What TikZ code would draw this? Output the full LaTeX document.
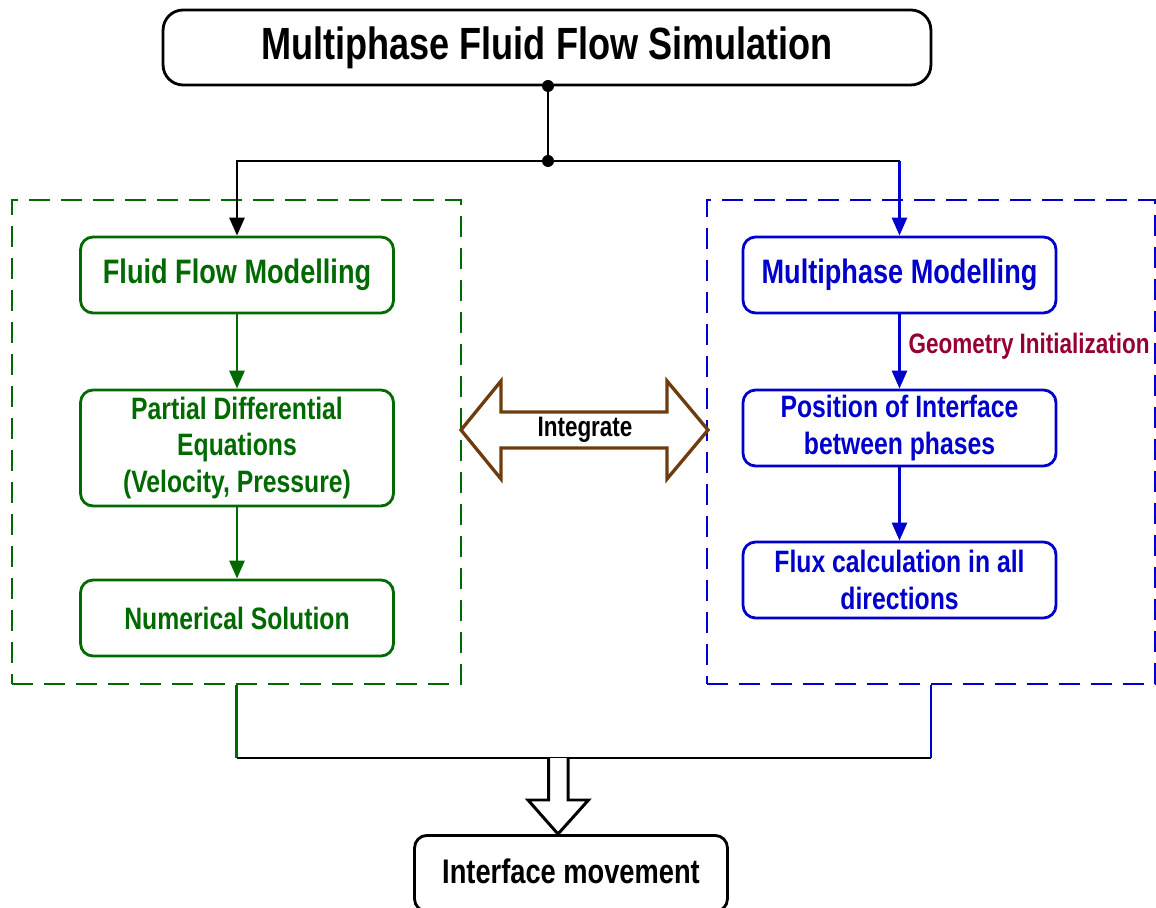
\documentclass[tikz,border=0pt]{standalone}
\usepackage{fontspec}
\setmainfont[FakeStretch=0.8]{Liberation Sans}
\usetikzlibrary{arrows.meta}
\definecolor{grn}{RGB}{0,105,0}
\definecolor{blu}{RGB}{0,0,205}
\definecolor{brn}{RGB}{110,60,15}
\definecolor{lbl}{RGB}{150,0,50}
\begin{document}
\begin{tikzpicture}[x=0.02cm,y=-0.02cm,
  line width=1.6pt,
  box/.style={draw,rounded corners=0.25cm,align=center,font=\bfseries\fontsize{17.6}{20.6}\selectfont,minimum width=6.26cm,minimum height=1.52cm,inner sep=2pt},
  bigtxt/.style={font=\bfseries\fontsize{19.3}{22}\selectfont},
  gbox/.style={box,draw=grn,text=grn},
  bbox/.style={box,draw=blu,text=blu},
  frame/.style={draw,dashed,dash pattern=on 0.42cm off 0.22cm,minimum height=9.68cm,inner sep=0pt},
  arr/.style={-{Triangle[length=0.36cm,width=0.3cm]}},
  dot/.style={circle,fill,inner sep=0pt,minimum size=0.24cm}
]
\useasboundingbox (0,0) rectangle (1156,908);
\clip (0,0) rectangle (1156,908);
% title
\node[box,minimum width=15.36cm,minimum height=1.5cm,rounded corners=0.4cm,font=\bfseries\fontsize{25.7}{30}\selectfont] (title) at (547,47.5) {Multiphase Fluid Flow Simulation};
% frames
\node[frame,draw=grn,minimum width=8.98cm] (gframe) at (236.5,442) {};
\node[frame,draw=blu,minimum width=8.96cm] (bframe) at (931,442) {};
% green boxes
\node[gbox,bigtxt] (ffm) at (237,275) {Fluid Flow Modelling};
\node[gbox,minimum height=2.32cm] (pde) at (237,448) {Partial Differential\\Equations\\(Velocity, Pressure)};
\node[gbox] (num) at (237,618) {Numerical Solution};
% blue boxes
\node[bbox,bigtxt] (mpm) at (899.5,275) {Multiphase Modelling};
\node[bbox] (pos) at (899.5,428) {Position of Interface\\between phases};
\node[bbox] (flux) at (899.5,580) {Flux calculation in all\\directions};
% bottom box
\node[box,draw=black,minimum height=1.52cm,anchor=north] (ifm) at (571,834) {};
\node[font=\bfseries\fontsize{19.4}{22}\selectfont] (ifmt) at (571,871) {Interface movement};
% top connectors
\coordinate (j) at (548,161);
\coordinate (tb) at (548,86);
\draw (tb) -- (j);
\node[dot] (d1) at (tb) {};
\node[dot] (d2) at (j) {};
\draw[arr] (j) -| (ffm.north);
\draw (j) -- (j -| mpm.north);
\draw[blu,arr] (j -| mpm.north) -- (mpm.north);
% inner arrows
\draw[grn,arr] (ffm) -- (pde);
\draw[grn,arr] (pde) -- (num);
\draw[blu,arr] (mpm) -- node[right,text=lbl,font=\bfseries\fontsize{16}{19}\selectfont,xshift=1pt,yshift=3pt]{Geometry Initialization} (pos);
\draw[blu,arr] (pos) -- (flux);
% integrate double arrow
\coordinate (il) at (461,430);
\coordinate (ir) at (708,430);
\draw[brn,line width=1.9pt,fill=white] (il) -- ++(40,-49) -- ++(0,31) -- ++(166,0) -- ++(0,-31) -- (ir) -- ++(-41,49) -- ++(0,-31) -- ++(-166,0) -- ++(0,31) -- cycle;
\node[font=\bfseries\fontsize{16}{19}\selectfont] (integ) at (585,430) {Integrate};
% bottom merge
\coordinate (m) at (558,758);
\draw[grn] (gframe.south) -- (gframe.south |- m);
\draw[blu] (bframe.south) -- (bframe.south |- m);
\draw (gframe.south |- m) -- (bframe.south |- m);
\coordinate (tip) at (558,834);
\draw[line width=1.7pt,fill=white] (m) ++(-9.5,0) -- ++(0,42) -- ++(-20.5,0) -- (tip) -- ++(30.5,-34) -- ++(-20.5,0) -- ++(0,-42);
\end{tikzpicture}
\end{document}
